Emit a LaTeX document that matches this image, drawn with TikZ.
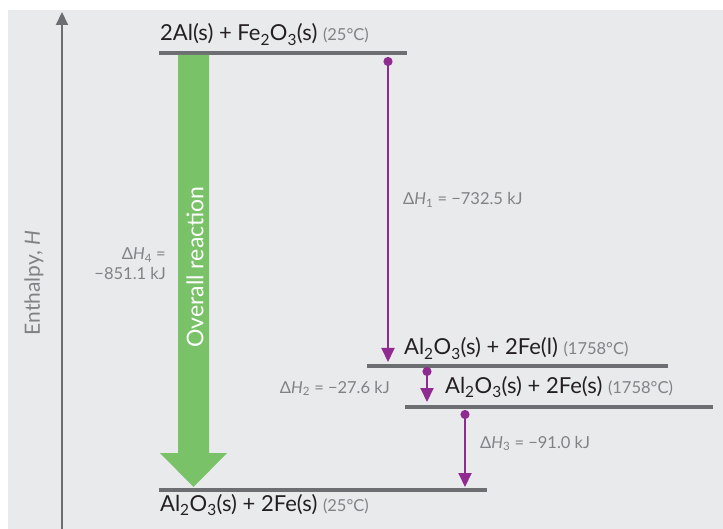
\documentclass[tikz,border=0pt]{standalone}
\usepackage{fontspec}
\setmainfont{Lato}
\usepackage{tikz}
\usetikzlibrary{positioning, arrows.meta, calc}
\definecolor{bggray}{HTML}{E9EAEC}
\definecolor{levelgray}{HTML}{6D6E71}
\definecolor{labelgray}{HTML}{808285}
\definecolor{rxnpurple}{HTML}{8E2A90}
\definecolor{rxngreen}{HTML}{79C267}
\definecolor{textdark}{HTML}{231F20}
\newcommand{\tempC}[1]{{\fontsize{16.5}{18}\selectfont\color{labelgray}(#1\textdegree C)}}

\begin{document}
\begin{tikzpicture}[
  x=1pt, y=-1pt,
  every node/.style={font=\fontsize{22}{26}\selectfont, text=textdark, inner sep=0pt},
  level/.style={levelgray, line width=4pt},
  dh/.style={rxnpurple, line width=2pt,
             {Circle[length=9pt]}-{Triangle[width=13pt, length=14pt]}},
  dhlabel/.style={font=\fontsize{16.5}{20}\selectfont, text=labelgray}
]
% canvas
\useasboundingbox (0,0) rectangle (723,529);
\fill[bggray] (8,10) rectangle (723,529);

% enthalpy axis
\coordinate (axbot) at (62,529);
\coordinate (axtop) at (62,12);
\draw[levelgray, line width=2pt, -{Triangle[width=12pt, length=13pt]}] (axbot) -- (axtop);
\node[rotate=90, font=\fontsize{21}{24}\selectfont, text=labelgray] (enth) at (34,283) {Enthalpy, \textit{H}};

% levels
\coordinate (l1w) at (159,53);  \coordinate (l1e) at (407,53);
\coordinate (l2w) at (367,366); \coordinate (l2e) at (668,366);
\coordinate (l3w) at (405,407); \coordinate (l3e) at (713,407);
\coordinate (l4w) at (159,490); \coordinate (l4e) at (487,490);
\draw[level] (l1w) -- (l1e);
\draw[level] (l2w) -- (l2e);
\draw[level] (l3w) -- (l3e);
\draw[level] (l4w) -- (l4e);

% level labels
\node[anchor=base west] (r1) at (160,41) {2Al(s) + Fe\textsubscript{2}O\textsubscript{3}(s) \tempC{25}};
\node[anchor=base west] (r2) at (404,355) {Al\textsubscript{2}O\textsubscript{3}(s) + 2Fe(l) \tempC{1758}};
\node[anchor=base west] (r3) at (445,393) {Al\textsubscript{2}O\textsubscript{3}(s) + 2Fe(s) \tempC{1758}};
\node[anchor=base west] (r4) at (160,511) {Al\textsubscript{2}O\textsubscript{3}(s) + 2Fe(s) \tempC{25}};

% overall reaction (green)
\coordinate (g1) at (193.5,55);
\coordinate (g2) at (193.5,487);
\fill[rxngreen] ($(g1)+(-15.5,0)$) -- ($(g1)+(15.5,0)$) -- ($(g2)+(15.5,-34)$)
  -- ($(g2)+(33.5,-34)$) -- (g2) -- ($(g2)+(-33.5,-34)$) -- ($(g2)+(-15.5,-34)$) -- cycle;
\node[rotate=90, font=\fontsize{23}{26}\selectfont, text=white] (overall) at (195,267) {Overall reaction};
\node[dhlabel, align=right, anchor=base east] (dh4) at (166,280) {Δ\textit{H}\textsubscript{4} =\\−851.1 kJ};

% steps (purple)
\coordinate (a1s) at (388,57);  \coordinate (a1e) at (388,362);
\coordinate (a2s) at (427,367); \coordinate (a2e) at (427,402);
\coordinate (a3s) at (465,410); \coordinate (a3e) at (465,487);
\draw[dh] (a1s) -- (a1e);
\draw[dh] (a2s) -- (a2e);
\draw[dh] (a3s) -- (a3e);
\node[dhlabel, anchor=base west] (dh1) at (403,205) {Δ\textit{H}\textsubscript{1} = −732.5 kJ};
\node[dhlabel, anchor=base east] (dh2) at (390,393) {Δ\textit{H}\textsubscript{2} = −27.6 kJ};
\node[dhlabel, anchor=base west] (dh3) at (480,448) {Δ\textit{H}\textsubscript{3} = −91.0 kJ};

\end{tikzpicture}
\end{document}
